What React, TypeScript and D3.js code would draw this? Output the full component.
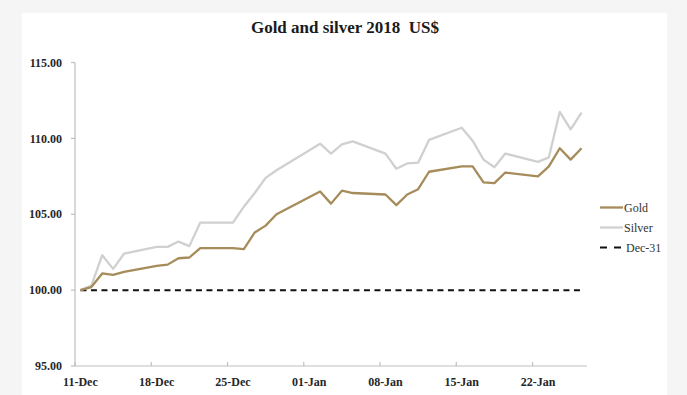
import * as d3 from 'd3';

// business days shown on the chart
const dates = [
  '2017-12-11', '2017-12-12', '2017-12-13', '2017-12-14', '2017-12-15',
  '2017-12-18', '2017-12-19', '2017-12-20', '2017-12-21', '2017-12-22',
  '2017-12-25', '2017-12-26', '2017-12-27', '2017-12-28', '2017-12-29',
  '2018-01-02', '2018-01-03', '2018-01-04', '2018-01-05',
  '2018-01-08', '2018-01-09', '2018-01-10', '2018-01-11', '2018-01-12',
  '2018-01-15', '2018-01-16', '2018-01-17', '2018-01-18', '2018-01-19',
  '2018-01-22', '2018-01-23', '2018-01-24', '2018-01-25', '2018-01-26',
];

const gold = [
  100.0, 100.2, 101.1, 101.0, 101.2,
  101.6, 101.68, 102.1, 102.15, 102.77,
  102.77, 102.7, 103.8, 104.25, 105.0,
  106.5, 105.7, 106.55, 106.4,
  106.3, 105.6, 106.3, 106.65, 107.8,
  108.15, 108.15, 107.1, 107.05, 107.75,
  107.5, 108.15, 109.35, 108.6, 109.35,
];

const silver = [
  100.0, 100.3, 102.3, 101.4, 102.4,
  102.85, 102.85, 103.2, 102.9, 104.45,
  104.45, 105.5, 106.4, 107.4, 107.9,
  109.65, 109.0, 109.6, 109.8,
  109.0, 108.0, 108.35, 108.4, 109.9,
  110.7, 109.85, 108.6, 108.1, 109.0,
  108.45, 108.75, 111.75, 110.6, 111.7,
];

const baseline = 100; // Dec-31 level
const yTicks = [95, 100, 105, 110, 115];
const xTickDates = ['2017-12-11', '2017-12-18', '2017-12-25', '2018-01-01', '2018-01-08', '2018-01-15', '2018-01-22'];

const seriesList = [
  { name: 'Gold', values: gold, color: '#a58c5a' },
  { name: 'Silver', values: silver, color: '#d0d0d0' },
];

export default function App() {
  const width = 687;
  const height = 395;
  const DAY = 86400000;
  const parse = d3.utcParse('%Y-%m-%d');
  const fmt = d3.utcFormat('%d-%b');
  const serif = '"Liberation Serif", "DejaVu Serif", serif';

  // category-like date axis: each day occupies a slot, points sit mid-slot
  const x = d3
    .scaleUtc()
    .domain([parse('2017-12-11')!, parse('2018-01-27')!])
    .range([75, 587]);
  const y = d3.scaleLinear().domain([95, 115]).range([366, 62.5]);

  const mid = (s: string) => x(new Date(parse(s)!.getTime() + DAY / 2));

  const line = d3
    .line<number>()
    .x((_, i) => mid(dates[i]))
    .y((d) => y(d));

  const legendY = [207.5, 227.5, 247.5];

  return (
    <div style={{ position: 'absolute', left: 0, top: 0 }}>
      <svg width={width} height={height} style={{ display: 'block' }}>
        <rect x={0} y={0} width={width} height={height} fill="#f5f5f5" />
        <rect x={22} y={13} width={645} height={height - 13} fill="#ffffff" />

        <text
          x={345}
          y={33}
          textAnchor="middle"
          fontFamily={serif}
          fontWeight="bold"
          fontSize={17}
          fill="#1a1a1a"
          style={{ whiteSpace: 'pre' }}
        >
          {'Gold and silver 2018  US$'}
        </text>

        {/* y axis */}
        <line x1={75} x2={75} y1={y(115)} y2={y(95)} stroke="#bfbfbf" strokeWidth={1.2} />
        {yTicks.map((t) => (
          <g key={t}>
            <line x1={71} x2={75} y1={y(t)} y2={y(t)} stroke="#bfbfbf" strokeWidth={1.2} />
            <text
              x={62}
              y={y(t)}
              dy="0.35em"
              textAnchor="end"
              fontFamily={serif}
              fontWeight="bold"
              fontSize={12}
              fill="#262626"
            >
              {d3.format('.2f')(t)}
            </text>
          </g>
        ))}

        {/* x axis */}
        <line x1={75} x2={587} y1={y(95)} y2={y(95)} stroke="#bfbfbf" strokeWidth={1.2} />
        {xTickDates.map((s) => (
          <g key={s}>
            <line x1={x(parse(s)!)} x2={x(parse(s)!)} y1={y(95)} y2={y(95) - 4} stroke="#bfbfbf" strokeWidth={1.2} />
            <text
              x={mid(s)}
              y={386}
              textAnchor="middle"
              fontFamily={serif}
              fontWeight="bold"
              fontSize={12}
              fill="#262626"
            >
              {fmt(parse(s)!)}
            </text>
          </g>
        ))}

        {/* Dec-31 baseline */}
        <line
          x1={mid(dates[0])}
          x2={mid(dates[dates.length - 1])}
          y1={y(baseline)}
          y2={y(baseline)}
          stroke="#111"
          strokeWidth={2}
          strokeDasharray="6,4.5"
        />

        {seriesList.slice().reverse().map((s) => (
          <path key={s.name} d={line(s.values)!} fill="none" stroke={s.color} strokeWidth={2.3} strokeLinejoin="round" />
        ))}

        {/* legend */}
        {seriesList.map((s, i) => (
          <g key={s.name}>
            <line x1={600} x2={623} y1={legendY[i]} y2={legendY[i]} stroke={s.color} strokeWidth={2.3} />
            <text x={624} y={legendY[i]} dy="0.35em" fontFamily={serif} fontSize={12} fill="#333">
              {s.name}
            </text>
          </g>
        ))}
        <line x1={600} x2={622} y1={legendY[2]} y2={legendY[2]} stroke="#111" strokeWidth={2} strokeDasharray="7,7" />
        <text x={626} y={legendY[2]} dy="0.35em" fontFamily={serif} fontSize={12} fill="#333">
          Dec-31
        </text>
      </svg>
    </div>
  );
}
